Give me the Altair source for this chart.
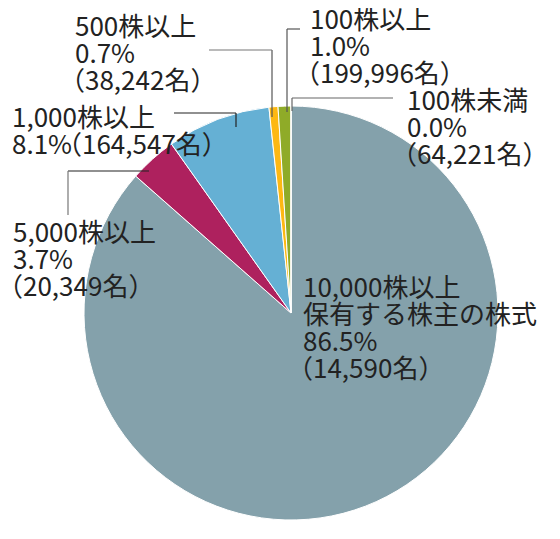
import altair as alt
import pandas as pd

categories = ["10,000株以上", "5,000株以上", "1,000株以上", "500株以上", "100株以上", "100株未満"]
percents = [86.5, 3.7, 8.1, 0.7, 1.0, 0.0]
holders = ["14,590", "20,349", "164,547", "38,242", "199,996", "64,221"]
colors = ["#84a1ab", "#ae215e", "#65b0d4", "#fdb813", "#8fab28", "#8fab28"]
subtitle_main = "保有する株主の株式"

df = pd.DataFrame({"cat": categories, "pct": percents, "idx": list(range(len(categories)))})

OX, OY = 8, 8  # page margin
CX, CY, R = 291 - OX, 313 - OY, 207
FONT = "Noto Sans CJK JP"
FS = 26
LH = 27
PAREN_DX = -16  # fullwidth paren glyph sits right in its box

pie = alt.Chart(df).mark_arc(outerRadius=R, stroke="white", strokeWidth=1).encode(
    theta=alt.Theta("pct:Q", stack=True, scale=alt.Scale(domain=[0, 100])),
    color=alt.Color("cat:N", scale=alt.Scale(domain=categories, range=colors), legend=None),
    order=alt.Order("idx:Q"),
    x=alt.value(CX),
    y=alt.value(CY),
)

def label_lines(i):
    c, p, h = categories[i], percents[i], holders[i]
    pct = f"{p:.1f}%"
    cnt = f"（{h}名）"
    if i == 0:
        return [[(c, 0)], [(subtitle_main, 0)], [(pct, 0)], [(cnt, PAREN_DX)]]
    if i == 2:
        return [[(c, 0)], [(pct, 0), (cnt, 60 + PAREN_DX)]]
    return [[(c, 0)], [(pct, 0)], [(cnt, PAREN_DX)]]

# label anchor positions (page coords: left x, first-line baseline)
label_pos = [(303, 297), (13, 242), (12, 127), (75, 36), (310, 29), (407, 110)]

base = alt.Chart(pd.DataFrame({"a": [0]}))
layers = [pie]
for i, (lx, ly) in enumerate(label_pos):
    for k, line in enumerate(label_lines(i)):
        for txt, dx in line:
            layers.append(
                base.mark_text(
                    align="left", baseline="alphabetic", font=FONT, fontSize=FS,
                    color="#222222",
                ).encode(
                    x=alt.value(lx + dx - OX),
                    y=alt.value(ly + k * LH - OY),
                    text=alt.value(txt),
                )
            )

# leader line segments (page coords): (x1, y1, x2, y2, color)
segments = [
    (292, 98, 292, 111, "#666666"), (292, 98, 393, 98, "#666666"),
    (287, 29, 287, 112, "#555555"), (287, 29, 300, 29, "#555555"),
    (272, 50, 272, 117, "#555555"), (209, 50, 272, 50, "#777777"),
    (236, 113, 236, 127, "#222222"), (174, 113, 236, 113, "#222222"),
    (68, 171, 149, 171, "#222222"), (68, 171, 68, 215, "#777777"),
]
for x1, y1, x2, y2, col in segments:
    layers.append(
        base.mark_rule(color=col, strokeWidth=1.2).encode(
            x=alt.value(x1 - OX), y=alt.value(y1 - OY),
            x2=alt.value(x2 - OX), y2=alt.value(y2 - OY),
        )
    )

chart = alt.layer(*layers).properties(
    width=544, height=523, autosize=alt.AutoSizeParams(type="none"), padding=0,
).configure_view(stroke=None)

chart.save("out.html", embed_options={"renderer": "svg", "actions": False})
